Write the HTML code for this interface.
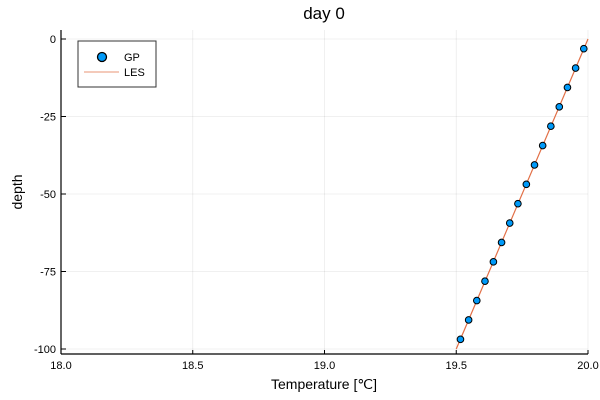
<!DOCTYPE html>
<html><head><meta charset="utf-8"><style>
body{margin:0;background:#fff}
svg{display:block;font-family:"Liberation Sans",sans-serif}
</style></head><body>
<svg id="chart" width="600" height="400">
<text x="324" y="19" font-size="17" text-anchor="middle">day 0</text>
<g id="grid"></g>
<g id="axes"></g>
<g id="series"></g>
<text x="324" y="389" font-size="14" text-anchor="middle">Temperature [℃]</text>
<text x="22" y="192" font-size="14" text-anchor="middle" transform="rotate(-90 22 192)">depth</text>
<g>
<rect x="78" y="41" width="78" height="46" fill="#fff" stroke="#333" stroke-width="1"/>
<circle cx="102" cy="57" r="4.5" fill="#009af9" stroke="#000" stroke-width="1.3"/>
<text x="124" y="61" font-size="11">GP</text>
<line x1="84" y1="72" x2="119" y2="72" stroke="#e26f46" stroke-opacity="0.6" stroke-width="1.2"/>
<text x="124" y="76" font-size="11">LES</text>
</g>
</svg>
<script>
const xTicks=[18.0,18.5,19.0,19.5,20.0];
const xTickLabels=["18.0","18.5","19.0","19.5","20.0"];
const yTicks=[0,-25,-50,-75,-100];
const yTickLabels=["0","-25","-50","-75","-100"];
const gpDepth=[-3.125,-9.375,-15.625,-21.875,-28.125,-34.375,-40.625,-46.875,-53.125,-59.375,-65.625,-71.875,-78.125,-84.375,-90.625,-96.875];
const gpTemp=[19.984,19.953,19.922,19.891,19.859,19.828,19.797,19.766,19.734,19.703,19.672,19.641,19.609,19.578,19.547,19.516];
const lesDepth=[0,-100];
const lesTemp=[20.0,19.5];
const NS="http://www.w3.org/2000/svg";
const L=61,R=588,T=30,B=354;
function sx(v){return L+(v-18)/2*(R-L);}
function sy(v){return 39+(0-v)/100*310;}
function mk(tag,attrs,parent){const e=document.createElementNS(NS,tag);for(const k in attrs)e.setAttribute(k,attrs[k]);parent.appendChild(e);return e;}
const grid=document.getElementById('grid'),axes=document.getElementById('axes'),series=document.getElementById('series');
xTicks.forEach((t,i)=>{
 const g=mk('line',{x1:sx(t),x2:sx(t),y1:T,y2:B,stroke:'#000','stroke-opacity':0.08,'stroke-width':0.8},grid);
 
 
 const tk=mk('line',{x1:sx(t),x2:sx(t),y1:B,y2:B-4,stroke:'#000','stroke-width':1},axes);
 
 
 const tx=mk('text',{x:sx(t),y:B+15,'font-size':11,'text-anchor':'middle'},axes);
 tx.textContent=xTickLabels[i];
 
 
});
yTicks.forEach((t,i)=>{
 const g=mk('line',{x1:L,x2:R,y1:sy(t),y2:sy(t),stroke:'#000','stroke-opacity':0.08,'stroke-width':0.8},grid);
 
 
 const tk=mk('line',{x1:L,x2:L+5,y1:sy(t),y2:sy(t),stroke:'#000','stroke-width':1},axes);
 
 
 const tx=mk('text',{x:L-5,y:sy(t)+4,'font-size':11,'text-anchor':'end'},axes);
 tx.textContent=yTickLabels[i];
 
 
});
const xa=mk('line',{x1:L,x2:R,y1:B,y2:B,stroke:'#000','stroke-width':1.2},axes);


const ya=mk('line',{x1:L,x2:L,y1:T,y2:B,stroke:'#000','stroke-width':1.2},axes);


const pl=mk('polyline',{points:lesTemp.map((t,i)=>sx(t)+','+sy(lesDepth[i])).join(' '),fill:'none',stroke:'#e26f46','stroke-width':1.2},series);


gpTemp.forEach((t,i)=>{
 const c=mk('circle',{cx:sx(t),cy:sy(gpDepth[i]),r:3.3,fill:'#009af9',stroke:'#000','stroke-width':1},series);
 
 
});
</script>
</body></html>
